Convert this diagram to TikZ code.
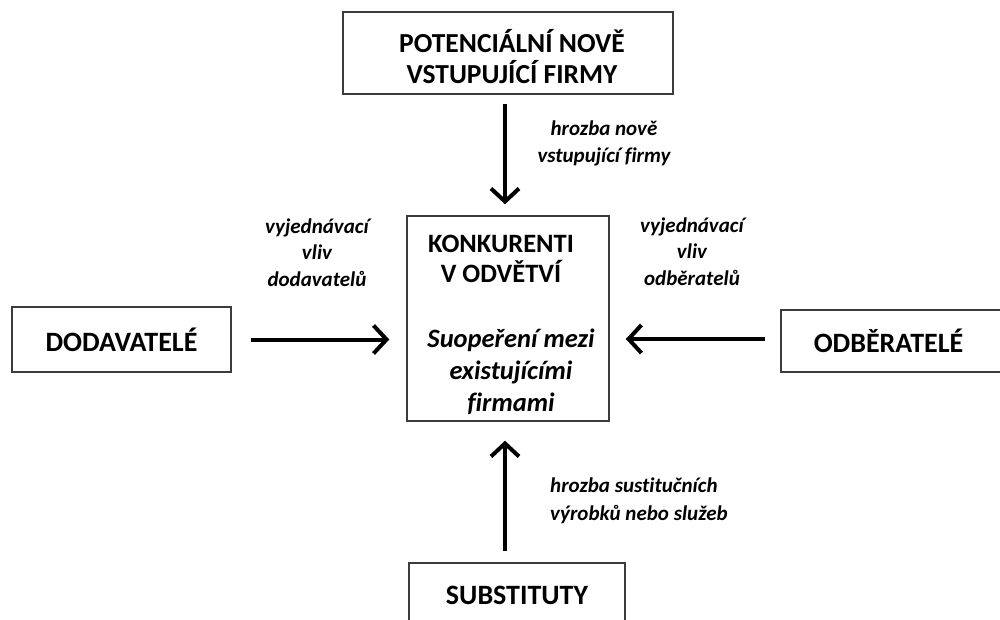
\documentclass[tikz,border=0pt]{standalone}
\usepackage{fontspec}
\setmainfont{Carlito}[Ligatures=CommonOff]
\usetikzlibrary{arrows.meta}
\definecolor{boxgray}{HTML}{3C3C3C}
\begin{document}
\begin{tikzpicture}[x=1pt,y=-1pt,
  box/.style={draw=boxgray, line width=1.5pt, inner sep=0pt},
  boxfont/.style={font=\fontsize{28}{31}\selectfont\bfseries},
  hd/.style={font=\fontsize{27.5}{31}\selectfont\bfseries, align=center, inner sep=0pt},
  ital/.style={font=\fontsize{26.5}{32}\selectfont\bfseries\itshape, align=center, inner sep=0pt},
  lbl/.style={font=\fontsize{21}{26.5}\selectfont\bfseries\itshape, align=center, inner sep=0pt},
  arr/.style={line width=4pt, -{Straight Barb[length=13pt,width=28pt]}}]
\useasboundingbox (0,0) rectangle (1000,620);
\fill[white] (0,0) rectangle (1000,620);

% boxes
\node[box, minimum width=330pt, minimum height=82pt] (top) at (508,53) {};
\node[box, minimum width=202pt, minimum height=205pt] (center) at (508,318.5) {};
\node[box, boxfont, minimum width=219pt, minimum height=65pt] (left) at (121.5,339.5) {DODAVATELÉ};
\node[box, boxfont, anchor=west, minimum height=62pt, inner xsep=33pt, text width=200pt, align=left] (right) at (780,341) {ODBĚRATELÉ};
\node[box, boxfont, minimum width=216pt, minimum height=64pt] (bottom) at (517,595) {SUBSTITUTY};

% box texts
\node[hd] (toptxt) at (512,57) {POTENCIÁLNÍ NOVĚ\\VSTUPUJÍCÍ FIRMY};
\node[hd, font=\fontsize{26.5}{30}\selectfont\bfseries] (ctitle) at (501,258.5) {KONKURENTI\\V ODVĚTVÍ};
\node[ital] (csub) at (511,372) {Suopeření mezi\\existujícími\\firmami};

% arrows
\draw[arr, shorten <=9pt, shorten >=11pt] ([xshift=-3pt]top.south) -- ([xshift=-3pt]top.south |- center.north);
\draw[arr, shorten <=19pt, shorten >=17pt] (left.east) -- (left.east -| center.west);
\draw[arr, shorten <=15pt, shorten >=16pt] ([yshift=2pt]right.west) -- ([yshift=2pt]right.west -| center.east);
\draw[arr, shorten <=11pt, shorten >=19pt] ([xshift=-12pt]bottom.north) -- ([xshift=-12pt]bottom.north |- center.south);

% labels
\node[lbl] (ltop) at (604,143.5) {hrozba nově\\vstupující firmy};
\node[lbl] (lleft) at (317,252.5) {vyjednávací\\vliv\\dodavatelů};
\node[lbl] (lright) at (692,251.5) {vyjednávací\\vliv\\odběratelů};
\node[lbl, align=left, anchor=west, font=\fontsize{21}{28}\selectfont\bfseries\itshape] (lbottom) at (550,501) {hrozba sustitučních\\výrobků nebo služeb};
\end{tikzpicture}
\end{document}
